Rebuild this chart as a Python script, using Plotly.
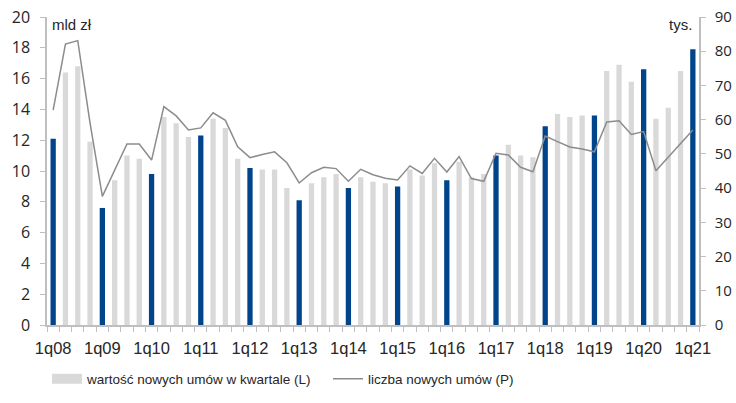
import plotly.graph_objects as go

# Quarterly labels 1q08 .. 1q21
years = list(range(8, 22))
quarters = [f"{q}q{y:02d}" for y in years for q in range(1, 5)][:53]

# Value of new contracts in the quarter, bn PLN (left axis)
contract_value = [
    12.1, 16.4, 16.8, 11.9,
    7.6, 9.4, 11.0, 10.8,
    9.8, 13.5, 13.1, 12.2,
    12.3, 13.4, 12.8, 10.8,
    10.2, 10.1, 10.1, 8.9,
    8.1, 9.2, 9.6, 9.8,
    8.9, 9.6, 9.3, 9.2,
    9.0, 10.1, 9.7, 10.5,
    9.4, 10.6, 9.6, 9.8,
    11.0, 11.7, 11.0, 10.9,
    12.9, 13.7, 13.5, 13.6,
    13.6, 16.5, 16.9, 15.8,
    16.6, 13.4, 14.1, 16.5,
    17.9,
]

# Number of new contracts, thousands (right axis)
contract_count = [
    62.8, 82.1, 83.1, 59.0,
    37.6, 45.2, 52.9, 52.9,
    48.2, 63.8, 61.1, 57.0,
    57.6, 62.0, 59.8, 52.1,
    48.9, 49.8, 50.6, 47.4,
    41.5, 44.5, 46.1, 45.7,
    42.0, 45.5, 43.9, 42.9,
    42.4, 46.5, 44.3, 48.7,
    44.7, 49.2, 42.8, 42.0,
    50.2, 49.7, 46.1, 44.8,
    55.2, 53.6, 52.0, 51.4,
    50.6, 59.3, 59.7, 55.7,
    56.5, 45.1, 49.1, 53.0,
    57.0,
]

left_ticks = list(range(0, 21, 2))
right_ticks = list(range(0, 91, 10))

BLUE = "#00458b"
GREY_BAR = "#d9d9d9"
LINE_GREY = "#8c8c8c"
AXIS_GREY = "#bfbfbf"
TEXT = "#262626"
SANS = "Liberation Sans, Arial, sans-serif"

idx = list(range(len(quarters)))
bar_colors = [BLUE if q.startswith("1q") else GREY_BAR for q in quarters]

fig = go.Figure()

fig.add_trace(go.Bar(
    x=idx, y=contract_value,
    marker=dict(color=bar_colors, line=dict(width=0)),
    showlegend=False, yaxis="y",
))

# legend swatch for the bars: a thick grey stroke
fig.add_trace(go.Scatter(
    x=[None], y=[None], mode="lines",
    line=dict(color=GREY_BAR, width=10),
    name="wartość nowych umów w kwartale (L)",
))

fig.add_trace(go.Scatter(
    x=idx, y=contract_count, mode="lines",
    line=dict(color=LINE_GREY, width=1.5),
    name="liczba nowych umów (P)", yaxis="y2",
))

label_pos = [i for i, q in enumerate(quarters) if q.startswith("1q")]

fig.update_layout(
    width=736, height=403,
    margin=dict(l=47, r=37, t=17, b=78, autoexpand=False),
    paper_bgcolor="white", plot_bgcolor="white",
    bargap=0.57,
    font=dict(family=SANS, size=14, color=TEXT),
    xaxis=dict(
        range=[-0.5, 52.5], automargin=False,
        tickmode="array", tickvals=label_pos,
        ticktext=[quarters[i] for i in label_pos],
        ticks="", showline=True, linecolor=AXIS_GREY, linewidth=1.5,
        showgrid=False, zeroline=False,
        tickfont=dict(family=SANS, size=16.5, color=TEXT),
        ticklabelstandoff=7,
        minor=dict(
            tickmode="array",
            tickvals=[i - 0.5 for i in range(len(quarters) + 1)],
            ticks="outside", ticklen=5, tickcolor=AXIS_GREY, tickwidth=1,
            showgrid=False,
        ),
    ),
    yaxis=dict(
        range=[0, 20], tickmode="array", tickvals=left_ticks, automargin=False,
        ticks="outside", ticklen=5, tickcolor=AXIS_GREY,
        showline=True, linecolor=AXIS_GREY, linewidth=1.5,
        showgrid=False, zeroline=False,
        tickfont=dict(family="Open Sans", size=16, color=TEXT),
        ticklabelstandoff=7,
    ),
    yaxis2=dict(
        range=[0, 90], tickmode="array", tickvals=right_ticks, automargin=False,
        overlaying="y", side="right",
        ticks="outside", ticklen=5, tickcolor=AXIS_GREY,
        showline=True, linecolor=AXIS_GREY, linewidth=1.5,
        showgrid=False, zeroline=False,
        tickfont=dict(family="Open Sans", size=15, color=TEXT),
        ticklabelstandoff=6,
    ),
    legend=dict(
        orientation="h", x=0, xanchor="left", y=-0.175, yanchor="middle",
        font=dict(family=SANS, size=13.5, color=TEXT),
        itemwidth=30, entrywidth=236, entrywidthmode="pixels",
        bgcolor="rgba(0,0,0,0)",
    ),
    annotations=[
        dict(text="mld zł", xref="paper", yref="paper", x=0.004, y=0.975,
             xanchor="left", yanchor="middle", showarrow=False,
             font=dict(family=SANS, size=15, color=TEXT)),
        dict(text="tys.", xref="paper", yref="paper", x=0.993, y=0.975,
             xanchor="right", yanchor="middle", showarrow=False,
             font=dict(family=SANS, size=15, color=TEXT)),
    ],
)

fig.write_html("out.html")
